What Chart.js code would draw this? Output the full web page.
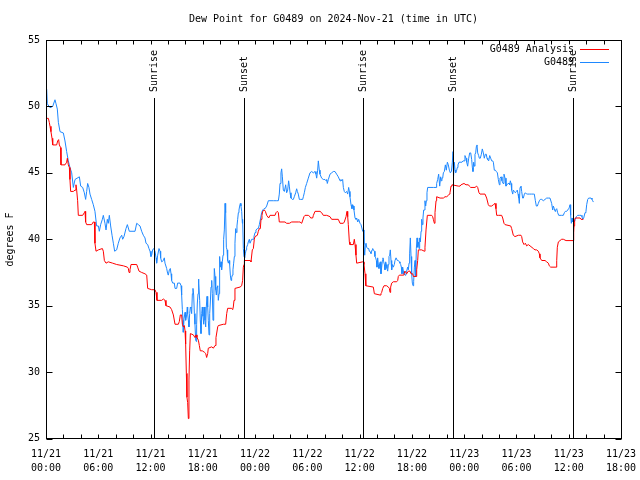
<!DOCTYPE html>
<html><head><meta charset="utf-8">
<script src="https://cdn.jsdelivr.net/npm/chart.js@4"></script>
<style>html,body{margin:0;padding:0;background:#fff;}canvas{display:block;}</style>
</head><body>
<canvas id="c" width="640" height="480"></canvas>
<script>
const chartTitle = "Dew Point for G0489 on 2024-Nov-21 (time in UTC)";
const yAxisTitle = "degrees F";
const seriesNames = ["G0489 Analysis", "G0489"];
const tickDates = ["11/21","11/21","11/21","11/21","11/22","11/22","11/22","11/22","11/23","11/23","11/23","11/23"];
const tickTimes = ["00:00","06:00","12:00","18:00","00:00","06:00","12:00","18:00","00:00","06:00","12:00","18:00"];
const sunHours = [12.43, 22.76, 36.42, 46.75, 60.52];
const sunLabels = ["Sunrise","Sunset","Sunrise","Sunset","Sunrise"];

const analysisHours = [0.08,0.27,0.38,0.46,0.57,0.69,0.77,1.22,1.34,1.45,1.53,1.68,1.72,2.18,2.37,2.45,2.56,2.68,2.75,2.83,3.14,3.33,3.44,3.52,3.63,3.71,4.21,4.40,4.48,4.55,4.67,5.24,5.43,5.55,5.62,5.74,6.01,6.47,6.58,6.70,6.89,7.15,7.65,8.11,8.88,9.34,9.45,9.53,9.64,9.76,10.22,10.41,
10.52,10.68,10.98,11.36,11.56,11.67,12.13,12.51,12.63,12.74,13.28,13.47,13.66,13.77,14.23,14.42,14.62,14.81,15.19,15.30,15.42,15.57,15.65,15.76,15.88,15.96,16.03,16.11,16.18,16.26,16.34,16.41,16.49,16.57,16.91,17.10,17.22,17.33,17.49,17.60,17.71,17.94,18.17,18.33,18.44,18.56,18.63,19.02,19.21,19.40,19.51,19.71,19.78,20.36,20.62,20.74,20.85,21.31,21.43,21.50,21.58,
21.69,22.27,22.46,22.57,22.65,22.73,22.77,23.42,23.53,23.68,23.80,23.91,23.99,24.26,24.37,24.49,24.60,24.68,24.79,24.87,25.06,25.18,25.33,25.56,25.71,26.29,26.40,26.55,26.67,26.78,27.43,27.62,27.93,28.20,28.96,29.15,29.35,29.61,29.73,30.11,30.30,30.38,30.61,30.69,30.88,31.45,31.64,31.83,32.22,32.60,32.79,33.17,33.55,
33.75,34.13,34.24,34.44,34.55,34.63,34.70,34.82,34.89,35.28,35.39,35.47,35.58,35.66,36.35,36.43,36.50,36.62,36.69,36.73,37.57,37.69,38.34,38.45,38.53,38.65,38.80,39.10,39.30,39.41,39.49,39.56,39.68,39.87,40.25,40.37,40.44,40.56,41.02,41.09,41.21,41.40,41.59,41.78,41.90,42.09,42.16,42.47,42.55,42.66,42.74,43.12,43.43,43.50,43.62,43.77,44.27,44.38,44.46,44.58,44.65,44.77,44.84,45.23,45.61,45.80,45.99,46.18,46.30,
46.37,46.49,46.60,47.33,47.52,47.64,47.98,48.21,48.48,48.59,48.75,49.24,49.43,49.55,49.70,49.82,50.39,50.58,50.77,50.89,51.16,51.35,51.54,51.65,51.73,51.92,52.30,52.42,52.57,52.69,53.34,53.45,53.64,53.83,54.22,54.52,54.60,54.71,54.87,55.02,55.17,55.36,
55.56,55.94,56.13,56.32,56.51,56.63,56.70,56.90,57.28,57.47,57.66,57.77,57.93,58.43,58.54,58.62,58.69,58.81,59.00,59.19,59.38,59.69,60.53,60.57,60.61,60.68,60.76,61.30,61.41,61.52,61.68];
const analysisValues = [49.1,49.1,48.8,48.5,48.1,47.6,47.1,47.1,47.4,47.5,47.1,46.9,45.6,45.6,45.8,46.1,45.6,45.4,44.5,43.6,43.6,43.7,44.1,43.7,42.9,41.8,41.8,42.0,42.1,41.3,41.1,41.1,41.3,41.3,39.7,39.1,39.2,39.3,39.1,38.4,38.2,38.3,38.2,38.1,38.0,37.9,37.8,37.5,37.7,38.1,38.1,38.1,
37.9,37.6,37.5,37.4,37.3,36.3,36.2,36.2,36.0,35.4,35.4,35.5,35.4,35.0,34.9,34.7,34.3,33.6,33.6,33.8,34.3,34.3,33.6,33.4,33.5,33.1,32.1,29.9,28.1,27.7,26.5,29.4,31.6,32.9,32.8,32.6,32.8,32.6,32.4,32.0,31.6,31.6,31.5,31.4,31.1,31.4,31.8,31.9,31.8,32.0,32.6,33.4,33.5,33.6,33.6,34.4,34.8,34.8,34.7,34.9,35.4,
36.3,36.4,36.5,36.9,37.9,38.1,38.4,38.4,38.3,39.2,39.3,40.0,40.2,40.3,40.6,40.8,40.8,41.5,41.8,42.1,42.2,42.1,41.8,41.6,41.8,41.8,42.0,42.1,42.0,41.3,41.3,41.2,41.2,41.3,41.3,41.3,41.2,41.7,41.8,41.8,41.7,41.6,41.6,41.8,42.1,42.1,42.0,41.8,41.8,41.7,41.5,41.5,41.5,
41.2,41.2,41.3,41.7,42.1,41.7,41.1,39.8,39.6,39.6,40.0,39.6,38.8,38.2,38.3,38.3,38.1,37.4,37.1,36.5,36.4,35.9,35.8,35.9,36.0,36.3,36.5,36.5,36.4,36.3,36.0,36.4,36.7,36.8,36.8,36.9,37.2,37.3,37.3,37.4,37.6,37.4,37.6,37.6,37.4,37.4,37.2,37.2,37.7,38.4,39.2,39.2,39.1,39.4,40.7,41.8,41.8,41.7,41.5,41.2,42.0,42.9,43.2,43.1,43.1,43.2,43.2,43.3,43.4,
43.5,44.0,44.1,44.0,44.0,44.1,44.2,44.1,44.1,44.0,43.9,43.9,44.0,43.9,43.5,43.4,43.4,43.1,42.6,42.5,42.5,42.6,42.7,42.3,41.8,41.8,41.8,41.6,41.2,41.1,41.0,40.8,40.3,40.2,40.3,40.3,40.2,39.8,39.6,39.7,39.5,39.6,
39.5,39.3,39.2,39.2,39.1,38.9,38.6,38.4,38.4,38.3,38.2,38.0,37.9,37.9,37.9,38.4,39.4,39.8,39.9,40.0,40.0,39.9,39.9,40.5,41.0,41.5,41.6,41.6,41.5,41.5,41.5];

const obsHours = [0.08,0.15,0.46,0.77,1.03,1.15,1.30,1.42,1.61,1.99,2.18,2.37,2.56,2.75,2.95,3.14,3.33,3.83,3.98,4.21,4.40,4.55,4.67,4.78,4.93,5.05,5.24,5.43,5.62,5.81,6.01,6.12,6.27,6.47,6.58,6.77,6.89,7.04,7.15,7.27,7.42,7.58,7.73,7.88,8.11,8.30,8.49,8.69,8.80,8.95,9.18,9.34,9.56,10.22,10.41,10.60,10.79,
10.98,11.17,11.36,11.48,11.67,11.82,11.94,12.05,12.13,12.24,12.36,12.51,12.63,12.70,12.82,12.97,13.09,13.16,13.28,13.47,13.58,13.66,13.85,13.97,14.04,14.16,14.27,14.35,14.42,14.54,14.73,14.81,15.00,15.11,15.38,15.50,15.57,15.65,15.73,15.76,15.84,15.96,16.03,16.15,16.22,16.26,16.34,16.41,16.49,16.57,16.64,16.72,16.80,16.87,16.95,17.03,17.10,17.18,17.26,17.29,17.37,17.45,17.49,17.56,17.64,17.71,17.79,17.87,17.94,18.02,18.10,18.17,18.25,18.33,18.40,18.48,18.56,18.63,18.71,18.79,18.86,18.94,19.02,19.09,19.17,19.25,19.32,19.40,19.48,19.55,19.63,19.71,19.78,19.86,19.93,20.01,20.09,20.16,20.24,20.32,20.39,20.47,20.55,20.62,20.70,20.78,20.85,20.93,21.01,21.08,21.16,21.24,21.31,21.39,21.46,21.54,21.62,21.69,21.77,21.85,21.92,22.00,22.08,22.15,22.23,22.31,22.38,22.46,22.54,
22.57,22.65,22.73,22.80,22.88,22.96,23.03,23.15,23.22,23.34,23.42,23.49,23.61,23.80,23.87,23.99,24.10,24.26,24.37,24.49,24.64,24.75,24.87,25.02,25.14,25.33,25.52,25.71,26.09,26.48,26.67,26.78,26.86,26.97,27.05,27.13,27.24,27.36,27.43,27.51,27.62,27.74,27.85,27.93,28.01,28.12,28.27,28.39,28.50,28.66,28.77,28.85,28.96,29.08,29.23,29.46,29.54,29.65,29.77,29.92,30.11,30.30,30.49,30.69,30.88,30.99,31.07,31.18,31.26,31.37,31.45,31.64,31.83,32.02,32.14,32.22,32.29,32.41,32.60,32.79,32.98,33.17,33.36,33.55,
33.75,33.86,33.94,34.05,34.13,34.24,34.36,34.51,34.63,34.74,34.82,34.89,35.01,35.12,35.20,35.28,35.35,35.47,35.58,35.66,35.78,35.89,36.04,36.16,36.27,36.35,36.43,36.50,36.58,36.66,36.73,36.81,36.92,37.04,37.11,37.19,37.31,37.42,37.50,37.57,37.69,37.76,37.84,37.92,37.99,38.07,38.15,38.22,38.30,38.38,38.45,38.53,38.61,38.68,38.76,38.84,38.91,38.99,39.07,39.14,39.22,39.30,39.37,39.45,39.52,39.60,39.68,39.75,39.87,39.98,40.06,40.18,40.25,40.33,40.44,40.56,40.63,40.71,40.79,40.86,40.94,41.02,41.09,41.21,41.32,41.40,41.51,41.59,41.67,41.74,41.82,41.90,41.97,42.05,42.13,42.20,42.28,42.36,42.43,42.51,42.59,42.66,42.74,42.82,42.89,42.97,43.05,43.12,43.20,43.27,43.35,43.43,43.50,43.58,43.66,43.73,43.81,44.08,44.46,44.77,44.84,44.96,45.07,45.19,45.30,45.38,45.45,45.53,45.61,45.72,45.84,45.95,46.07,46.18,46.30,
46.41,46.53,46.64,46.72,46.76,46.79,46.87,46.95,47.02,47.14,47.21,47.29,47.41,47.52,47.64,47.75,47.87,47.98,48.09,48.21,48.29,48.40,48.52,48.63,48.75,48.86,48.94,49.01,49.09,49.17,49.24,49.32,49.40,49.47,49.55,49.66,49.74,49.85,49.97,50.08,50.20,50.31,50.43,50.54,50.62,50.70,50.81,50.93,51.04,51.16,51.27,51.35,51.46,51.58,51.69,51.81,51.92,52.04,52.11,52.23,52.34,52.46,52.57,52.69,52.80,52.92,53.03,53.15,53.22,53.30,53.38,53.45,53.57,53.64,53.76,53.87,53.99,54.10,54.18,54.26,54.33,54.41,54.52,54.60,54.71,54.79,54.91,55.02,55.17,55.29,55.48,55.75,55.94,56.05,56.17,56.28,56.40,56.51,56.63,56.74,56.90,57.09,57.28,57.47,57.66,57.85,
58.04,58.16,58.23,58.35,58.43,58.50,58.62,58.73,58.85,59.00,59.19,59.38,59.50,59.61,59.76,59.88,59.99,60.07,60.15,60.22,60.30,60.38,60.45,60.53,60.64,60.76,60.87,61.03,61.22,61.41,61.52,61.60,61.72,61.87,61.98,62.06,62.18,62.29,62.44,62.56,62.67,62.75,62.83];
const obsValues = [51.3,50.2,49.9,50.0,50.5,50.2,49.8,48.8,48.1,48.0,47.4,46.6,45.9,45.4,45.0,43.9,44.5,44.7,44.0,43.9,43.5,43.0,43.6,44.2,43.9,43.4,43.0,42.6,42.1,41.0,41.0,40.6,41.1,41.5,41.8,41.2,40.7,41.5,41.2,41.8,41.0,40.3,39.7,39.1,39.2,39.7,40.1,40.3,40.0,40.2,40.8,41.1,40.6,40.6,41.2,41.1,41.0,
40.6,40.3,40.1,39.7,39.6,39.3,39.1,38.7,38.8,39.2,39.3,39.1,38.6,38.2,38.8,39.3,39.1,38.6,38.3,38.4,38.6,38.2,37.8,37.4,37.3,37.7,37.8,37.4,36.9,36.7,36.7,36.3,36.3,36.7,36.7,36.5,35.8,34.7,33.9,33.0,34.0,34.5,33.9,34.3,34.9,34.4,33.9,33.4,34.4,34.9,34.8,34.4,35.9,36.3,35.8,34.4,33.6,32.4,32.3,33.6,35.2,35.9,37.0,36.7,35.4,33.9,32.9,34.4,34.9,34.2,33.6,34.9,33.9,33.4,34.9,35.7,34.9,33.9,32.8,34.4,35.2,36.4,36.9,35.9,33.9,34.9,37.8,37.2,36.2,35.8,36.4,36.5,35.4,35.9,38.7,37.9,38.3,37.7,38.3,38.8,40.0,40.7,42.7,42.0,39.4,39.2,38.4,38.2,38.4,38.1,37.3,36.9,37.1,37.3,37.7,38.2,38.7,39.7,40.8,40.5,41.0,41.5,42.0,42.2,42.5,42.7,42.5,42.1,41.2,
41.5,39.3,38.7,38.6,38.9,39.2,39.4,39.6,39.8,40.0,39.7,39.7,40.0,40.0,40.2,40.5,40.7,40.8,40.8,41.1,41.6,42.0,42.2,42.3,42.3,42.5,42.9,42.9,42.9,42.9,42.9,43.4,44.2,45.0,45.3,44.7,43.7,43.6,43.6,44.1,43.5,43.7,44.4,44.0,43.5,43.1,43.0,43.0,43.2,43.5,43.8,43.6,43.4,43.0,43.0,43.0,43.2,43.5,43.9,44.2,44.6,45.0,45.1,45.0,45.1,44.9,44.6,45.2,45.9,45.2,44.9,44.6,44.5,44.5,44.4,44.5,44.2,44.5,44.9,45.0,45.1,45.1,44.9,44.7,
44.4,44.5,44.4,44.5,43.9,43.6,43.5,43.6,43.4,43.9,43.6,43.2,42.6,42.3,42.6,42.5,42.2,41.6,41.5,41.6,41.3,41.5,41.2,41.1,41.1,40.6,40.7,39.6,38.8,39.6,39.7,39.4,39.3,39.3,39.1,39.1,38.9,39.2,39.3,39.2,39.1,38.7,38.6,38.4,37.9,38.6,38.1,37.8,38.2,38.3,37.4,37.9,38.4,38.6,38.3,38.1,37.7,38.3,38.1,37.8,37.6,38.1,38.7,38.8,39.2,38.4,37.7,38.1,37.9,38.1,38.4,38.6,38.6,38.4,38.4,38.3,38.2,38.1,37.9,37.4,37.9,37.6,37.4,37.3,37.4,37.6,37.9,37.7,38.2,38.9,40.1,38.7,37.4,36.7,36.5,36.8,37.9,38.4,37.2,39.3,40.1,39.4,39.8,39.3,40.1,39.8,40.6,41.5,41.1,41.6,42.2,42.2,42.9,42.5,42.9,43.5,43.9,43.9,43.9,43.9,44.2,44.5,44.9,44.0,44.7,44.4,44.6,44.6,45.0,45.1,45.6,45.2,45.8,45.6,45.2,
45.0,45.1,45.8,46.6,45.9,44.7,45.8,45.2,45.0,45.2,45.4,45.6,45.8,45.8,45.8,45.8,45.9,45.9,46.3,46.1,45.8,45.5,46.1,46.5,46.5,46.0,45.4,45.1,45.8,45.5,46.4,46.5,47.0,47.1,46.5,46.3,46.1,46.1,46.4,46.8,46.5,46.1,46.4,46.4,46.1,46.0,45.9,46.3,46.1,45.9,45.9,45.8,45.2,45.2,45.1,45.0,44.5,44.1,44.6,44.7,44.4,44.2,44.9,44.6,44.0,44.1,44.2,44.2,44.1,44.4,44.2,43.7,43.4,43.7,43.6,43.5,43.6,43.7,43.4,43.1,42.7,43.9,44.0,43.6,43.1,43.1,43.4,43.5,43.4,43.4,43.4,43.4,43.4,43.4,42.9,42.5,42.5,42.7,42.9,43.0,43.0,42.9,43.0,43.1,43.1,43.1,
42.7,42.2,42.5,42.3,42.1,42.2,42.3,42.0,41.8,41.8,41.8,41.8,42.0,42.1,42.1,42.2,42.3,42.4,42.6,41.8,41.2,41.6,41.3,41.5,41.3,41.5,41.7,41.8,41.8,41.8,41.7,41.5,41.6,42.0,42.1,42.6,43.0,43.1,43.1,43.1,43.0,42.9,42.8];

const FONT_FAMILY = '"DejaVu Sans Mono", "Liberation Mono", monospace';
const FONT = '10px ' + FONT_FAMILY;
const RED = '#ff0000';
const BLUE = '#1e88ff';

const toPts = (hs, vs) => hs.map((h, i) => ({x: h, y: vs[i]}));

const decor = {
  id: 'decor',
  afterDraw(chart) {
    const {ctx, chartArea: a, scales: {x, y}} = chart;
    const L = Math.floor(a.left) + 0.5, R = Math.floor(a.right) + 0.5;
    const T = Math.floor(a.top) + 0.5, B = Math.floor(a.bottom) + 0.5;
    ctx.save();
    ctx.strokeStyle = '#000';
    ctx.lineWidth = 1;
    ctx.beginPath();
    for (let h = 0; h <= 66; h += 2) {
      const px = Math.round(x.getPixelForValue(h)) + 0.5;
      ctx.moveTo(px, B); ctx.lineTo(px, B - 4);
      ctx.moveTo(px, T); ctx.lineTo(px, T + 4);
    }
    for (let v = 25; v <= 55; v += 5) {
      const py = Math.round(y.getPixelForValue(v)) + 0.5;
      ctx.moveTo(L, py); ctx.lineTo(L + 6, py);
      ctx.moveTo(R, py); ctx.lineTo(R - 6, py);
    }
    sunHours.forEach(h => {
      const px = Math.round(x.getPixelForValue(h)) + 0.5;
      ctx.moveTo(px, 98); ctx.lineTo(px, B);
    });
    ctx.stroke();
    ctx.strokeRect(L, T, R - L, B - T);

    ctx.fillStyle = '#000';
    ctx.font = FONT;
    sunHours.forEach((h, i) => {
      const px = Math.round(x.getPixelForValue(h));
      ctx.save();
      ctx.translate(px + 0.5, 92);
      ctx.rotate(-Math.PI / 2);
      ctx.textAlign = 'left';
      ctx.textBaseline = 'middle';
      ctx.fillText(sunLabels[i], 0, 0);
      ctx.restore();
    });

    ctx.textAlign = 'center';
    ctx.textBaseline = 'middle';
    ctx.fillText(chartTitle, (a.left + a.right) / 2, 19);

    ctx.save();
    ctx.translate(10, (T + B) / 2);
    ctx.rotate(-Math.PI / 2);
    ctx.fillText(yAxisTitle, 0, 0);
    ctx.restore();

    const legendColors = [RED, BLUE];
    seriesNames.forEach((n, i) => {
      const ly = 49 + i * 13;
      ctx.fillStyle = '#000';
      ctx.textAlign = 'right';
      ctx.fillText(n, 574, ly);
      ctx.beginPath();
      ctx.strokeStyle = legendColors[i];
      ctx.lineWidth = 1;
      ctx.moveTo(580, ly + 0.5);
      ctx.lineTo(609, ly + 0.5);
      ctx.stroke();
    });
    ctx.restore();
  }
};

new Chart(document.getElementById('c'), {
  type: 'line',
  data: {
    datasets: [
      {label: seriesNames[0], data: toPts(analysisHours, analysisValues), borderColor: RED, borderWidth: 1, pointRadius: 0, tension: 0, fill: false},
      {label: seriesNames[1], data: toPts(obsHours, obsValues), borderColor: BLUE, borderWidth: 1, pointRadius: 0, tension: 0, fill: false}
    ]
  },
  options: {
    responsive: false,
    animation: false,
    devicePixelRatio: 1,
    layout: {padding: {left: 0, right: 19, top: 40, bottom: 0}},
    plugins: {legend: {display: false}, title: {display: false}, tooltip: {enabled: false}},
    scales: {
      x: {
        type: 'linear', min: 0, max: 66,
        grid: {display: false, drawTicks: false},
        border: {display: false},
        ticks: {
          stepSize: 6, autoSkip: false, maxRotation: 0, minRotation: 0, padding: 9, color: '#000',
          font: {family: FONT_FAMILY, size: 10, lineHeight: 1.4},
          callback: (v) => { const i = Math.round(v / 6); return [tickDates[i], tickTimes[i]]; }
        },
        afterFit(s) { s.height = 41.5; s.paddingLeft = 0; s.paddingRight = 0; }
      },
      y: {
        min: 25, max: 55,
        grid: {display: false, drawTicks: false},
        border: {display: false},
        ticks: {stepSize: 5, padding: 6, color: '#000', font: {family: FONT_FAMILY, size: 10}},
        afterFit(s) { s.width = 46; s.paddingTop = 0; s.paddingBottom = 0; }
      }
    }
  },
  plugins: [decor]
});
</script>
</body></html>
